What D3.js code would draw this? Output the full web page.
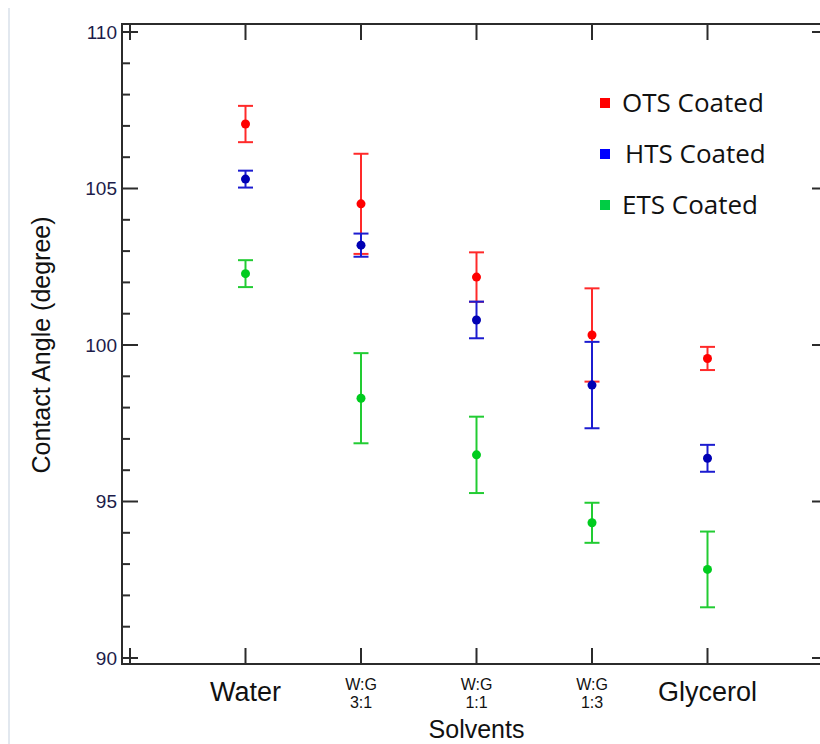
<!DOCTYPE html>
<html>
<head>
<meta charset="utf-8">
<script src="https://cdn.jsdelivr.net/npm/d3@7"></script>
<style>
  html, body { margin: 0; padding: 0; background: #fff; overflow: hidden; }
  svg { display: block; }
</style>
</head>
<body>
<svg id="chart" width="820" height="744"></svg>
<script>
// ---- data ----
const categories = ["Water", "W:G\n3:1", "W:G\n1:1", "W:G\n1:3", "Glycerol"];
const seriesNames = ["OTS Coated", "HTS Coated", "ETS Coated"];
const otsMean = [107.06, 104.51, 102.17, 100.32, 99.57];
const otsErr  = [0.58, 1.60, 0.79, 1.49, 0.37];
const htsMean = [105.30, 103.19, 100.80, 98.72, 96.38];
const htsErr  = [0.27, 0.37, 0.585, 1.38, 0.43];
const etsMean = [102.28, 98.30, 96.49, 94.32, 92.83];
const etsErr  = [0.43, 1.44, 1.22, 0.64, 1.21];
const yMajorTicks = [90, 95, 100, 105, 110];
const yMinorTicks = d3.range(90, 111, 1);
const xTickPositions = [0, 1, 2, 3, 4, 5];

const series = [
  { name: seriesNames[0], mean: otsMean, err: otsErr, dot: "#ff0000", line: "#ff2a2a", key: "#ff0000" },
  { name: seriesNames[1], mean: htsMean, err: htsErr, dot: "#0000b4", line: "#1c1cd0", key: "#0000ff" },
  { name: seriesNames[2], mean: etsMean, err: etsErr, dot: "#00cc1e", line: "#22cc33", key: "#00cc44" }
];

// ---- layout ----
const W = 820, H = 744;
const frame = { left: 122, right: W, top: 24, bottom: 664 };
const x = d3.scaleLinear().domain([0, 5]).range([130, 707.5]);
const y = d3.scaleLinear().domain([90, 110]).range([658, 32]);

const svg = d3.select("#chart");
const root = svg.append("g");

const axisColor = "#2b2b2b";
const font = "'Liberation Sans', Arial, sans-serif";

// faint left border line from the source image
root.append("line").attr("x1", 9).attr("x2", 9).attr("y1", 8).attr("y2", H)
  .attr("stroke", "#e2e8ef").attr("stroke-width", 2);

// frame (right edge of the frame lies beyond the picture)
const fr = root.append("g").attr("stroke", axisColor).attr("stroke-width", 2).attr("fill", "none");
fr.append("line").attr("x1", frame.left).attr("x2", frame.right).attr("y1", frame.top).attr("y2", frame.top);
fr.append("line").attr("x1", frame.left).attr("x2", frame.right).attr("y1", frame.bottom).attr("y2", frame.bottom);
fr.append("line").attr("x1", frame.left).attr("x2", frame.left).attr("y1", frame.top - 1).attr("y2", frame.bottom + 1);

// y ticks: left (inward, minor + major); right: only the visible stubs of the major ticks
const tickG = root.append("g").attr("stroke", axisColor).attr("stroke-width", 2);
yMinorTicks.forEach(v => {
  const len = (v % 5 === 0) ? 16 : 8;
  tickG.append("line").attr("x1", frame.left).attr("x2", frame.left + len)
    .attr("y1", y(v)).attr("y2", y(v));
});
yMajorTicks.forEach(v => {
  tickG.append("line").attr("x1", W - 8).attr("x2", W)
    .attr("y1", y(v)).attr("y2", y(v));
});
// x ticks (bottom and top, inward)
xTickPositions.forEach(v => {
  tickG.append("line").attr("x1", x(v)).attr("x2", x(v))
    .attr("y1", frame.bottom).attr("y2", frame.bottom - 16);
  tickG.append("line").attr("x1", x(v)).attr("x2", x(v))
    .attr("y1", frame.top).attr("y2", frame.top + 16);
});

// y tick labels
root.append("g").selectAll("text").data(yMajorTicks).join("text")
  .attr("x", 117).attr("y", d => y(d)).attr("dy", "0.36em")
  .attr("text-anchor", "end").attr("font-family", font).attr("font-size", 19)
  .attr("fill", "#1c1c4a").text(d => d);

// x category labels
const xl = root.append("g").attr("font-family", font).attr("fill", "#111");
categories.forEach((c, i) => {
  const parts = c.split("\n");
  if (parts.length === 1) {
    xl.append("text").attr("x", x(i + 1)).attr("y", 701).attr("text-anchor", "middle")
      .attr("font-size", 27).text(c);
  } else {
    parts.forEach((p, j) => {
      xl.append("text").attr("x", x(i + 1)).attr("y", 690 + j * 18).attr("text-anchor", "middle")
        .attr("font-size", 16).text(p);
    });
  }
});

// axis titles
root.append("text").attr("x", x(3)).attr("y", 738).attr("text-anchor", "middle")
  .attr("font-family", font).attr("font-size", 25).attr("fill", "#111").text("Solvents");
root.append("text")
  .attr("transform", `translate(50, ${(y(90) + y(110)) / 2}) rotate(-90)`)
  .attr("text-anchor", "middle").attr("font-family", font).attr("font-size", 25)
  .attr("fill", "#111").text("Contact Angle (degree)");

// error bars + points
const capHalf = 7.5;
series.forEach(s => {
  const g = root.append("g");
  s.mean.forEach((m, i) => {
    const cx = x(i + 1);
    const top = y(m + s.err[i]), bot = y(m - s.err[i]);
    g.append("line").attr("x1", cx).attr("x2", cx).attr("y1", top).attr("y2", bot)
      .attr("stroke", s.line).attr("stroke-width", 2);
    g.append("line").attr("x1", cx - capHalf).attr("x2", cx + capHalf).attr("y1", top).attr("y2", top)
      .attr("stroke", s.line).attr("stroke-width", 2);
    g.append("line").attr("x1", cx - capHalf).attr("x2", cx + capHalf).attr("y1", bot).attr("y2", bot)
      .attr("stroke", s.line).attr("stroke-width", 2);
    g.append("circle").attr("cx", cx).attr("cy", y(m)).attr("r", 4.5).attr("fill", s.dot);
  });
});

// legend
const legendYs = [103, 154, 205];
const legendTextX = [622, 625, 622];
const lg = root.append("g");
series.forEach((s, i) => {
  lg.append("rect").attr("x", 600).attr("y", legendYs[i] - 5).attr("width", 10).attr("height", 10)
    .attr("fill", s.key);
  lg.append("text").attr("x", legendTextX[i]).attr("y", legendYs[i]).attr("dy", "0.35em")
    .attr("font-family", "'Open Sans', 'Noto Sans', sans-serif").attr("font-size", 26)
    .attr("fill", "#111").text(s.name);
});
</script>
</body>
</html>
